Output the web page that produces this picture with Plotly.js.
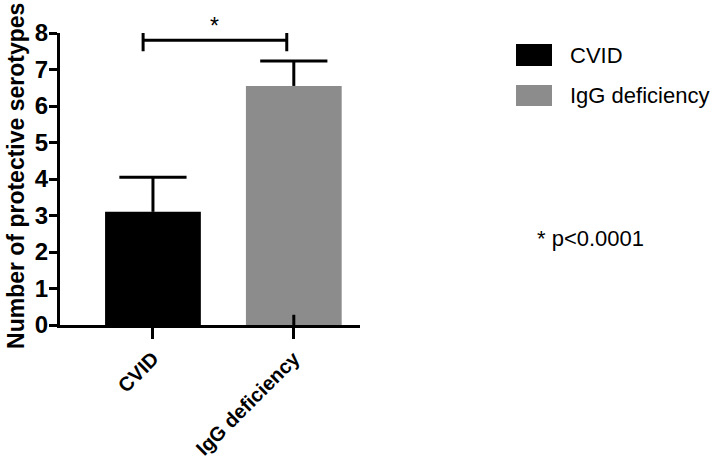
<!DOCTYPE html>
<html>
<head>
<meta charset="utf-8">
<script src="https://cdn.plot.ly/plotly-3.0.1.min.js"></script>
<style>
  html, body { margin: 0; padding: 0; background: #fff; }
  #chart { width: 717px; height: 462px; }
</style>
</head>
<body>
<div id="chart"></div>
<script>
  // values
  const groups = ['CVID', 'IgG deficiency'];
  const means = [3.1, 6.55];
  const sdUp = [0.95, 0.68];
  const barColors = ['#000000', '#8c8c8c'];
  const yTitle = 'Number of protective serotypes';
  const pNote = '* p<0.0001';

  const FONT = 'Arial, "Liberation Sans", sans-serif';

  const bars = {
    type: 'bar',
    x: [0, 1],
    y: means,
    width: 0.68,
    marker: { color: barColors, line: { width: 0 } },
    error_y: {
      type: 'data', symmetric: false,
      array: sdUp, arrayminus: [0, 0],
      color: '#000', thickness: 3, width: 0
    },
    showlegend: false,
    hoverinfo: 'skip'
  };

  // caps only on top of the error bars
  const caps = {
    type: 'scatter', mode: 'markers',
    x: [0, 1],
    y: means.map((m, i) => m + sdUp[i]),
    marker: { symbol: 'line-ew-open', size: 48, color: '#000', line: { color: '#000', width: 3 } },
    cliponaxis: false,
    showlegend: false,
    hoverinfo: 'skip'
  };

  // significance bracket + inner tick part
  const shapes = [
    { type: 'line', xref: 'x', yref: 'y', x0: -0.07, x1: 0.95, y0: 7.8, y1: 7.8, line: { color: '#000', width: 3 } },
    { type: 'line', xref: 'x', yref: 'y', x0: -0.07, x1: -0.07, y0: 7.5, y1: 8.0, line: { color: '#000', width: 3 } },
    { type: 'line', xref: 'x', yref: 'y', x0: 0.95, x1: 0.95, y0: 7.5, y1: 8.0, line: { color: '#000', width: 3 } },
    { type: 'line', xref: 'x', yref: 'y', x0: 1, x1: 1, y0: 0, y1: 0.28, line: { color: '#000', width: 3 } }
  ];

  // legend swatches drawn by hand (large squares)
  const legendY = [[0.962, 0.887], [0.822, 0.750]];
  const annotations = [
    { xref: 'paper', yref: 'paper', x: -0.147, y: 0.510, xanchor: 'center', yanchor: 'middle',
      textangle: -90, text: '<b>' + yTitle + '</b>', showarrow: false,
      font: { family: FONT, size: 23, color: '#000' } },
    { xref: 'x', yref: 'paper', x: 0.44, y: 1.075, text: '*', showarrow: false,
      font: { family: FONT, size: 23, color: '#000' } },
    { xref: 'paper', yref: 'paper', x: 1.583, y: 0.245, xanchor: 'left', text: pNote, showarrow: false,
      font: { family: FONT, size: 22, color: '#000' } }
  ];
  groups.forEach((g, i) => {
    shapes.push({ type: 'rect', xref: 'paper', yref: 'paper',
      x0: 1.52, x1: 1.64, y0: legendY[i][1], y1: legendY[i][0],
      fillcolor: barColors[i], line: { width: 0 } });
    annotations.push({ xref: 'paper', yref: 'paper', x: 1.693, xanchor: 'left',
      y: (legendY[i][0] + legendY[i][1]) / 2, yanchor: 'middle',
      text: g, showarrow: false, font: { family: FONT, size: 22, color: '#000' } });
  });

  const layout = {
    width: 717, height: 462,
    margin: { l: 60, r: 357, t: 33, b: 137 },
    paper_bgcolor: '#fff', plot_bgcolor: '#fff',
    font: { family: FONT, color: '#000' },
    showlegend: false,
    xaxis: {
      range: [-0.66, 1.47],
      tickvals: [0, 1], ticktext: groups.map(g => '<b>' + g + '</b>'),
      tickangle: -45, tickfont: { family: FONT, size: 20, color: '#000' },
      ticks: 'outside', ticklen: 11, tickwidth: 3, tickcolor: '#000',
      showline: true, linewidth: 3, linecolor: '#000',
      showgrid: false, zeroline: false, fixedrange: true
    },
    yaxis: {
      range: [0, 8], dtick: 1,
      tickfont: { family: FONT, size: 24, color: '#000' },
      tickprefix: '<b>', ticksuffix: '</b>',
      ticklabelstandoff: -4,
      ticks: 'outside', ticklen: 8, tickwidth: 3, tickcolor: '#000',
      showline: true, linewidth: 3, linecolor: '#000',
      showgrid: false, zeroline: false, fixedrange: true
    },
    shapes: shapes,
    annotations: annotations
  };

  Plotly.newPlot('chart', [bars, caps], layout, { displayModeBar: false, staticPlot: true });
</script>
</body>
</html>
